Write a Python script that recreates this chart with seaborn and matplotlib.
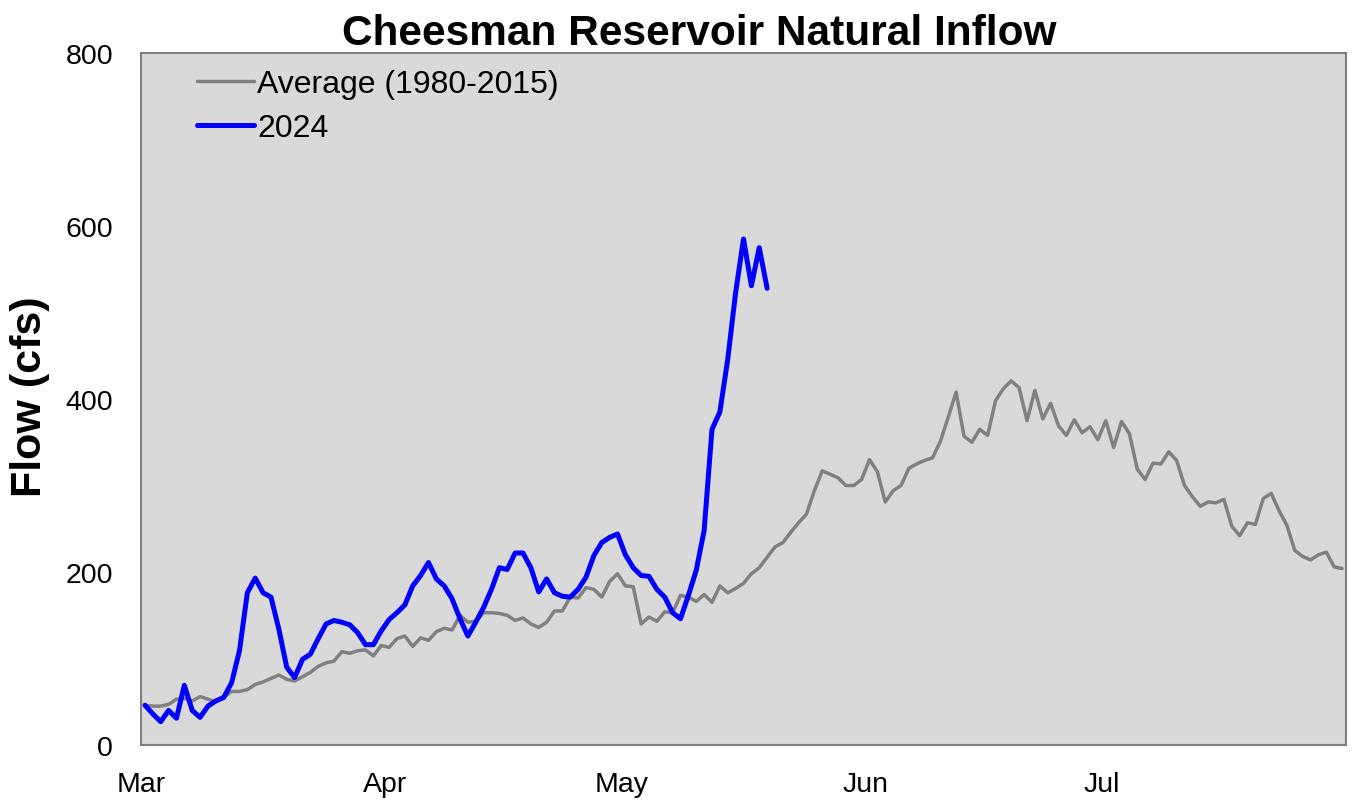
import pandas as pd
import matplotlib.pyplot as plt
import matplotlib.dates as mdates
import seaborn as sns

# daily values, Mar 1 - Jul 31
avg_flow = [46, 45, 45, 47, 53, 54, 51, 56, 53, 50, 55, 62, 62, 64, 70, 73, 77, 81, 76, 74,
            79, 84, 91, 95, 97, 108, 106, 109, 110, 103, 115, 113, 123, 126, 114, 124, 121, 131, 135, 133,
            150, 142, 143, 153, 153, 152, 150, 144, 147, 140, 136, 142, 155, 155, 171, 170, 182, 180, 171, 189,
            198, 184, 183, 140, 148, 143, 154, 153, 173, 171, 166, 174, 165, 184, 176, 181, 187, 198, 205, 217,
            229, 234, 246, 257, 267, 294, 317, 313, 309, 300, 300, 307, 330, 316, 281, 294, 300, 320, 325, 329,
            332, 351, 379, 408, 357, 350, 365, 358, 398, 412, 421, 413, 375, 410, 377, 395, 369, 358, 376, 361,
            368, 353, 375, 344, 374, 360, 319, 307, 326, 325, 339, 329, 300, 287, 276, 281, 280, 284, 253, 242,
            257, 255, 285, 291, 271, 254, 225, 218, 214, 220, 223, 206, 204]

flow_2024 = [46, 36, 27, 40, 31, 69, 40, 32, 45, 51, 55, 72, 109, 176, 193, 176, 171, 134, 90, 78,
             99, 105, 123, 140, 144, 142, 139, 130, 116, 116, 132, 145, 153, 162, 184, 196, 211, 192, 184, 169,
             146, 126, 142, 159, 180, 205, 203, 222, 222, 205, 177, 192, 176, 172, 171, 180, 194, 219, 234, 240,
             244, 220, 205, 196, 195, 180, 171, 153, 146, 173, 202, 248, 365, 385, 446, 523, 585, 531, 575, 528]

month_ticks = pd.date_range("2024-03-01", periods=5, freq="MS")

# points sit in the middle of each day, like the Excel date axis
days_avg = pd.date_range("2024-03-01", periods=len(avg_flow), freq="D") + pd.Timedelta(hours=12)
days_2024 = pd.date_range("2024-03-01", periods=len(flow_2024), freq="D") + pd.Timedelta(hours=12)

sns.set_style("white", {"axes.facecolor": "#D9D9D9"})
plt.rcParams['font.family'] = ['Liberation Sans', 'DejaVu Sans']
plt.rcParams['text.color'] = 'black'
plt.rcParams['xtick.labelcolor'] = 'black'
plt.rcParams['ytick.labelcolor'] = 'black'

fig = plt.figure(figsize=(13.56, 8.04), dpi=100)
ax = fig.add_axes([0.104, 0.0721, 0.8886, 0.8607])

sns.lineplot(x=days_avg, y=avg_flow, ax=ax, color='#808080', linewidth=2.5, label='Average (1980-2015)')
sns.lineplot(x=days_2024, y=flow_2024, ax=ax, color='#0000FF', linewidth=3.6, label='2024')

ax.set_xlim(pd.Timestamp("2024-03-01"), pd.Timestamp("2024-08-01"))
ax.set_ylim(0, 800)
ax.set_yticks([0, 200, 400, 600, 800])
ax.set_xticks(month_ticks)
ax.xaxis.set_major_formatter(mdates.DateFormatter('%b'))

for side in ['left', 'right', 'top', 'bottom']:
    ax.spines[side].set_visible(True)
    ax.spines[side].set_color('#808080')
    ax.spines[side].set_linewidth(1.5)
ax.tick_params(axis='both', direction='out', color='#808080', length=8, width=1.5,
               labelsize=20.5, labelcolor='black')
ax.tick_params(axis='y', pad=12)
ax.tick_params(axis='x', pad=11)

ax.set_xlabel("")
ax.set_ylabel("")
fig.text(0.516, 1 - 45 / 804, "Cheesman Reservoir Natural Inflow", ha='center', va='baseline',
         fontsize=30.5, fontweight='bold', color='black')
fig.text(30 / 1356, 0.506, "Flow (cfs)", rotation=90, ha='center', va='center',
         fontsize=31, fontweight='bold', color='black')

leg = ax.legend(loc='upper left', bbox_to_anchor=(0.033, 1.0), frameon=False, fontsize=23,
                handlelength=1.8, handletextpad=0.1, labelspacing=0.45, borderaxespad=0.1)
for t in leg.get_texts():
    t.set_color('black')

fig.savefig('out.png', dpi=100)
